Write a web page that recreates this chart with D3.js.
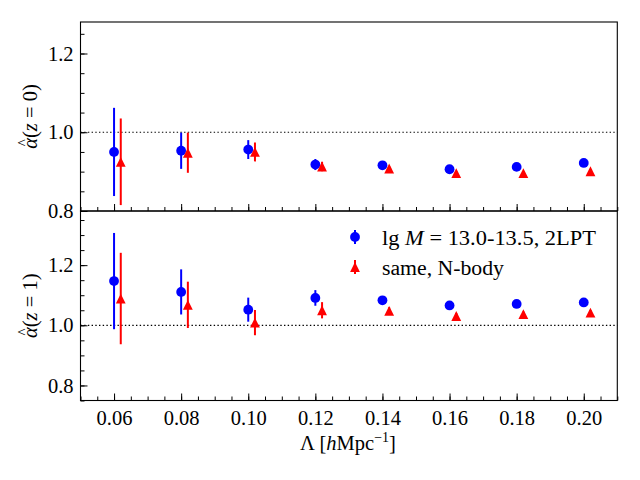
<!DOCTYPE html>
<html>
<head>
<meta charset="utf-8">
<script src="https://cdn.jsdelivr.net/npm/d3@7"></script>
<style>
body { margin: 0; background: #fff; }
</style>
</head>
<body>
<svg id="chart" width="640" height="480" font-family="Times New Roman, Liberation Serif, DejaVu Serif, serif"></svg>
<script>
// Λ values; the N-body points are drawn shifted right a bit
const lambdaVals = [0.06, 0.08, 0.10, 0.12, 0.14, 0.16, 0.18, 0.20];
const nbodyShift = 0.002;

// z = 0 panel
const alphaZ0_2lpt  = [0.950, 0.953, 0.956, 0.918, 0.916, 0.906, 0.912, 0.922];
const errZ0_2lpt    = [0.112, 0.046, 0.024, 0.014, 0.006, 0.005, 0.005, 0.005];
const alphaZ0_nbody = [0.925, 0.948, 0.950, 0.913, 0.908, 0.896, 0.896, 0.901];
const errZ0_nbody   = [0.110, 0.051, 0.024, 0.012, 0.006, 0.005, 0.005, 0.005];

// z = 1 panel
const alphaZ1_2lpt  = [1.147, 1.111, 1.052, 1.091, 1.083, 1.066, 1.071, 1.076];
const errZ1_2lpt    = [0.160, 0.075, 0.040, 0.026, 0.012, 0.010, 0.009, 0.009];
const alphaZ1_nbody = [1.089, 1.068, 1.009, 1.050, 1.048, 1.031, 1.037, 1.042];
const errZ1_nbody   = [0.152, 0.077, 0.042, 0.027, 0.012, 0.010, 0.009, 0.009];

const xTicks = [0.06, 0.08, 0.10, 0.12, 0.14, 0.16, 0.18, 0.20];
const yTicks = [0.8, 1.0, 1.2];
const legendLabels = ["2LPT", "same, N-body"];

const blue = "#0000ff", red = "#ff0000";
const left = 80.5, right = 617.3;
const serif = "Times New Roman, Liberation Serif, DejaVu Serif, serif";

const svg = d3.select("#chart");

const x = d3.scaleLinear().domain([0.05, 0.21]).range([left, right]);

const panels = [
    { y: d3.scaleLinear().domain([0.8, 1.28]).range([211, 22]),
      blueVals: alphaZ0_2lpt, blueErr: errZ0_2lpt, redVals: alphaZ0_nbody, redErr: errZ0_nbody,
      zLabel: "0", showX: false },
    { y: d3.scaleLinear().domain([0.75, 1.38]).range([400.5, 211]),
      blueVals: alphaZ1_2lpt, blueErr: errZ1_2lpt, redVals: alphaZ1_nbody, redErr: errZ1_nbody,
      zLabel: "1", showX: true }
];

const triPath = s => `M0,${-s}L${-s},${s}L${s},${s}Z`;

function minorRange(a, b, step) {
    const out = [];
    for (let i = 0; a + i * step <= b + 1e-9; i++) out.push(+(a + i * step).toFixed(4));
    return out;
}

panels.forEach(p => {
    const [y0, y1] = p.y.range();
    const g = svg.append("g");

    // dotted reference at 1
    g.append("line")
        .attr("x1", left).attr("x2", right)
        .attr("y1", p.y(1)).attr("y2", p.y(1))
        .attr("stroke", "#000").attr("stroke-width", 1.2)
        .attr("stroke-dasharray", "1.4,2.3");

    const series = [
        { xs: lambdaVals, vals: p.blueVals, errs: p.blueErr, color: blue, kind: "circle" },
        { xs: lambdaVals.map(v => v + nbodyShift), vals: p.redVals, errs: p.redErr, color: red, kind: "tri" }
    ];

    series.forEach(s => {
        const sg = g.append("g");
        sg.selectAll("line.err")
            .data(s.vals)
            .join("line")
            .attr("class", "err")
            .attr("x1", (d, i) => x(s.xs[i]))
            .attr("x2", (d, i) => x(s.xs[i]))
            .attr("y1", (d, i) => p.y(d - s.errs[i]))
            .attr("y2", (d, i) => p.y(d + s.errs[i]))
            .attr("stroke", s.color)
            .attr("stroke-width", 2);
        if (s.kind === "circle") {
            sg.selectAll("circle")
                .data(s.vals)
                .join("circle")
                .attr("cx", (d, i) => x(s.xs[i]))
                .attr("cy", d => p.y(d))
                .attr("r", 4.9)
                .attr("fill", s.color);
        } else {
            sg.selectAll("path")
                .data(s.vals)
                .join("path")
                .attr("d", triPath(4.9))
                .attr("transform", (d, i) => `translate(${x(s.xs[i])},${p.y(d)})`)
                .attr("fill", s.color);
        }
    });

    // axes: inward ticks, left and bottom only
    const xMajor = d3.axisBottom(x).tickValues(xTicks).tickSize(-7).tickPadding(10)
        .tickFormat(p.showX ? d3.format(".2f") : "");
    const xMinor = d3.axisBottom(x).tickValues(minorRange(0.05, 0.21, 0.005)).tickSize(-4).tickFormat("");
    const [d0, d1] = p.y.domain();
    const yMajor = d3.axisLeft(p.y).tickValues(yTicks).tickSize(-7).tickPadding(7).tickFormat(d3.format(".1f"));
    const yMinor = d3.axisLeft(p.y).tickValues(minorRange(Math.ceil(d0 / 0.05) * 0.05, d1, 0.05)).tickSize(-4).tickFormat("");

    [xMajor, xMinor].forEach(ax => {
        const a = g.append("g").attr("transform", `translate(0,${y0})`).call(ax);
        a.select(".domain").remove();
        a.attr("font-family", serif);
    });
    [yMajor, yMinor].forEach(ax => {
        const a = g.append("g").attr("transform", `translate(${left},0)`).call(ax);
        a.select(".domain").remove();
        a.attr("font-family", serif);
    });
    g.selectAll(".tick line").attr("stroke", "#000").attr("stroke-width", 1);
    g.selectAll(".tick text").attr("font-size", 20.5).attr("font-family", serif).attr("fill", "#000");

    // frame
    g.append("rect")
        .attr("x", left).attr("y", y1)
        .attr("width", right - left).attr("height", y0 - y1)
        .attr("fill", "none").attr("stroke", "#000").attr("stroke-width", 1.1);

    // y label: hat drawn as a separate glyph over the alpha
    const yl = g.append("text")
        .attr("transform", `translate(37,${(y0 + y1) / 2}) rotate(-90)`)
        .attr("text-anchor", "middle")
        .attr("font-family", serif)
        .attr("font-size", 20.5);
    yl.append("tspan").attr("font-style", "italic").text("\u03b1");
    yl.append("tspan").text("(");
    yl.append("tspan").attr("font-style", "italic").text("z");
    yl.append("tspan").text(` = ${p.zLabel})`);
    const bb = yl.node().getBBox();
    g.append("text")
        .attr("transform", `translate(37,${(y0 + y1) / 2}) rotate(-90)`)
        .attr("x", bb.x + 6).attr("y", -9)
        .attr("text-anchor", "middle")
        .attr("font-family", serif)
        .attr("font-size", 15)
        .text("^");
});

// x label
const xl = svg.append("text")
    .attr("x", 348).attr("y", 450)
    .attr("text-anchor", "middle")
    .attr("font-family", serif)
    .attr("font-size", 20.5);
xl.append("tspan").text("\u039b [");
xl.append("tspan").attr("font-style", "italic").text("h");
xl.append("tspan").text("Mpc");
xl.append("tspan").attr("font-size", 14).attr("dy", -8).text("\u22121");
xl.append("tspan").attr("dy", 8).text("]");

// legend (no frame)
const lg = svg.append("g");
const legRows = [
    { y: 237, color: blue, kind: "circle" },
    { y: 267, color: red, kind: "tri" }
];
legRows.forEach(r => {
    lg.append("line")
        .attr("x1", 355).attr("x2", 355)
        .attr("y1", r.y - 7).attr("y2", r.y + 7)
        .attr("stroke", r.color).attr("stroke-width", 2);
    if (r.kind === "circle") {
        lg.append("circle").attr("cx", 355).attr("cy", r.y).attr("r", 4.9).attr("fill", r.color);
    } else {
        lg.append("path").attr("d", triPath(4.9))
            .attr("transform", `translate(355,${r.y})`).attr("fill", r.color);
    }
});
const t1 = lg.append("text").attr("x", 382).attr("y", 245).attr("font-size", 20.5)
    .attr("font-family", serif)
    .attr("textLength", 214).attr("lengthAdjust", "spacingAndGlyphs");
t1.append("tspan").text("lg ");
t1.append("tspan").attr("font-style", "italic").text("M");
t1.append("tspan").text(" = 13.0-13.5, " + legendLabels[0]);
lg.append("text").attr("x", 382).attr("y", 275).attr("font-size", 20.5)
    .attr("font-family", serif)
    .attr("textLength", 122).attr("lengthAdjust", "spacingAndGlyphs")
    .text(legendLabels[1]);
</script>
</body>
</html>
